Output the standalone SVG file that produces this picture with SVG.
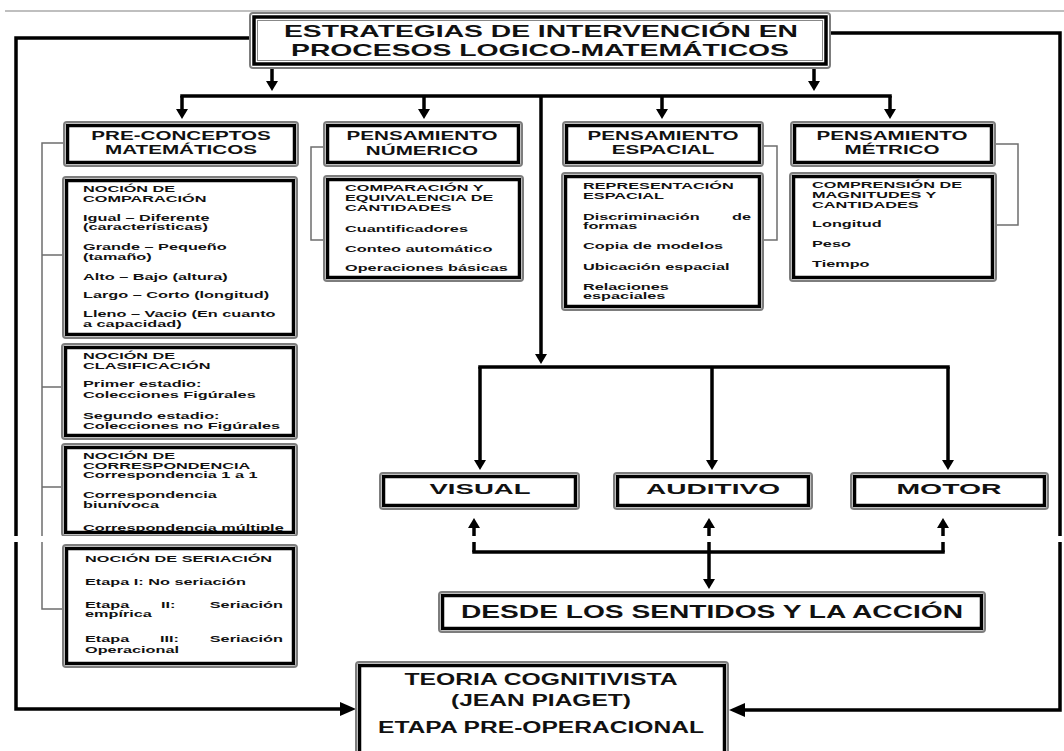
<svg xmlns="http://www.w3.org/2000/svg" width="1064" height="751" viewBox="0 0 1064 751">
<defs>
<style>
.t{font-family:"Liberation Sans",Arial,Helvetica,sans-serif;font-weight:bold;fill:#111}
.s{font-size:9.3px}
.h{font-size:12.5px;text-anchor:middle}
.m{text-anchor:middle}
.e{text-anchor:end}
.bo{fill:#fff;stroke:#7d7d7d;stroke-width:2}
.bi{fill:none;stroke:#000;stroke-width:3.5}
.c{fill:none;stroke:#000;stroke-width:3.5}
.sq{stroke-linecap:square}
.g{fill:none;stroke:#6e6e6e;stroke-width:1.5}
</style>
<marker id="a" markerUnits="userSpaceOnUse" markerWidth="10" markerHeight="12" refX="1" refY="6" orient="auto"><path d="M0,0 L10,6 L0,12 z" fill="#000"/></marker>
<marker id="A" markerUnits="userSpaceOnUse" markerWidth="16" markerHeight="14" refX="1" refY="7" orient="auto"><path d="M0,0 L16,7 L0,14 z" fill="#000"/></marker>
</defs>
<rect width="1064" height="751" fill="#fff"/>
<line x1="5" y1="11" x2="1064" y2="11" stroke="#aaa" stroke-width="1.5"/>

<g id="connectors">
<path class="g" d="M64 143 H42 V609 H63 M42 255 H63 M42 387 H62 M42 487 H62"/>
<path class="g" d="M324 147 H311 V240 H324"/>
<path class="g" d="M763 146 H777 V240 H763"/>
<path class="g" d="M995 144 H1018 V225 H996"/>
<path class="c" d="M272 68 V82" marker-end="url(#a)"/>
<path class="c" d="M814 68 V82" marker-end="url(#a)"/>
<path class="c sq" d="M182 96 H890"/>
<path class="c" d="M182 96 V110" marker-end="url(#a)"/>
<path class="c" d="M424 96 V110" marker-end="url(#a)"/>
<path class="c" d="M662 96 V110" marker-end="url(#a)"/>
<path class="c" d="M890 96 V110" marker-end="url(#a)"/>
<path class="c" d="M541 96 V355" marker-end="url(#a)"/>
<path class="c sq" d="M480 367 H948"/>
<path class="c" d="M480 367 V461" marker-end="url(#a)"/>
<path class="c" d="M712 367 V461" marker-end="url(#a)"/>
<path class="c" d="M948 367 V461" marker-end="url(#a)"/>
<path class="c" d="M474 552 V527" marker-end="url(#a)"/>
<path class="c" d="M709 552 V527" marker-end="url(#a)"/>
<path class="c" d="M943 552 V527" marker-end="url(#a)"/>
<path class="c sq" d="M474 552 H943"/>
<path class="c" d="M709 552 V580" marker-end="url(#a)"/>
<path class="c" d="M250 38 H16 V709 H341" marker-end="url(#A)"/>
<path class="c" d="M830 33 H1060 V710 H744" marker-end="url(#A)"/>
</g>

<g id="title">
<rect class="bo" x="250" y="13" width="580" height="55" rx="3"/>
<text class="t m" font-size="17" x="541" y="37" textLength="514" lengthAdjust="spacingAndGlyphs">ESTRATEGIAS DE INTERVENCIÓN EN</text>
<text class="t m" font-size="17" x="540" y="56" textLength="498" lengthAdjust="spacingAndGlyphs">PROCESOS LOGICO-MATEMÁTICOS</text>
<rect class="bi" x="254" y="17" width="572" height="47" stroke-width="4"/>
<rect x="257.5" y="20.5" width="565" height="40" fill="none" stroke="#888" stroke-width="1"/>
</g>

<g id="h-preconceptos">
<rect class="bo" x="64" y="122" width="234" height="44" rx="3"/>
<text class="t h" transform="translate(181 140) scale(1.65 1)">PRE-CONCEPTOS</text>
<text class="t h" transform="translate(181 154) scale(1.65 1)">MATEMÁTICOS</text>
<rect class="bi" x="67.5" y="125.5" width="227" height="37"/>
</g>
<g id="h-numerico">
<rect class="bo" x="324" y="122" width="198" height="44" rx="3"/>
<text class="t h" transform="translate(422 140) scale(1.65 1)">PENSAMIENTO</text>
<text class="t h" transform="translate(422 155) scale(1.65 1)">NÚMERICO</text>
<rect class="bi" x="327.5" y="125.5" width="191" height="37"/>
</g>
<g id="h-espacial">
<rect class="bo" x="563" y="122" width="200" height="44" rx="3"/>
<text class="t h" transform="translate(663 140) scale(1.65 1)">PENSAMIENTO</text>
<text class="t h" transform="translate(663 154) scale(1.65 1)">ESPACIAL</text>
<rect class="bi" x="566.5" y="125.5" width="193" height="37"/>
</g>
<g id="h-metrico">
<rect class="bo" x="791" y="122" width="204" height="44" rx="3"/>
<text class="t h" transform="translate(892 140) scale(1.65 1)">PENSAMIENTO</text>
<text class="t h" transform="translate(892 154) scale(1.65 1)">MÉTRICO</text>
<rect class="bi" x="794.5" y="125.5" width="197" height="37"/>
</g>

<g id="comparacion">
<rect class="bo" x="63" y="177" width="234" height="161" rx="3"/>
<text class="t s" transform="translate(83 192) scale(1.75 1)">NOCIÓN DE</text>
<text class="t s" transform="translate(83 202) scale(1.75 1)">COMPARACIÓN</text>
<text class="t s" transform="translate(83 221) scale(1.75 1)">Igual – Diferente</text>
<text class="t s" transform="translate(83 230) scale(1.75 1)">(características)</text>
<text class="t s" transform="translate(83 250) scale(1.75 1)">Grande – Pequeño</text>
<text class="t s" transform="translate(83 260) scale(1.75 1)">(tamaño)</text>
<text class="t s" transform="translate(83 280) scale(1.75 1)">Alto – Bajo (altura)</text>
<text class="t s" transform="translate(83 298) scale(1.75 1)">Largo – Corto (longitud)</text>
<text class="t s" transform="translate(83 317) scale(1.75 1)">Lleno – Vacio (En cuanto</text>
<text class="t s" transform="translate(83 327) scale(1.75 1)">a capacidad)</text>
<rect class="bi" x="66.5" y="180.5" width="227" height="154"/>
</g>
<g id="clasificacion">
<rect class="bo" x="62" y="344" width="235" height="95" rx="3"/>
<text class="t s" transform="translate(83 359) scale(1.75 1)">NOCIÓN DE</text>
<text class="t s" transform="translate(83 369) scale(1.75 1)">CLASIFICACIÓN</text>
<text class="t s" transform="translate(83 387) scale(1.75 1)">Primer estadio:</text>
<text class="t s" transform="translate(83 398) scale(1.75 1)">Colecciones Figúrales</text>
<text class="t s" transform="translate(83 419) scale(1.75 1)">Segundo estadio:</text>
<text class="t s" transform="translate(83 429) scale(1.75 1)">Colecciones no Figúrales</text>
<rect class="bi" x="65.5" y="347.5" width="228" height="88"/>
</g>
<g id="correspondencia">
<rect class="bo" x="62" y="444" width="235" height="92" rx="3"/>
<text class="t s" transform="translate(83 459) scale(1.75 1)">NOCIÓN DE</text>
<text class="t s" transform="translate(83 469) scale(1.75 1)">CORRESPONDENCIA</text>
<text class="t s" transform="translate(83 478) scale(1.75 1)">Correspondencia 1 a 1</text>
<text class="t s" transform="translate(83 498) scale(1.75 1)">Correspondencia</text>
<text class="t s" transform="translate(83 508) scale(1.75 1)">biunívoca</text>
<text class="t s" transform="translate(83 531) scale(1.75 1)">Correspondencia múltiple</text>
<rect class="bi" x="65.5" y="447.5" width="228" height="85"/>
</g>
<g id="seriacion">
<rect class="bo" x="63" y="545" width="234" height="122" rx="3"/>
<text class="t s" transform="translate(85 562) scale(1.75 1)">NOCIÓN DE SERIACIÓN</text>
<text class="t s" transform="translate(85 585) scale(1.75 1)">Etapa I: No seriación</text>
<text class="t s" transform="translate(85 608) scale(1.75 1)">Etapa</text>
<text class="t s" transform="translate(161 608) scale(1.75 1)">II:</text>
<text class="t s e" transform="translate(283 608) scale(1.75 1)">Seriación</text>
<text class="t s" transform="translate(85 617) scale(1.75 1)">empírica</text>
<text class="t s" transform="translate(85 642) scale(1.75 1)">Etapa</text>
<text class="t s" transform="translate(160 642) scale(1.75 1)">III:</text>
<text class="t s e" transform="translate(283 642) scale(1.75 1)">Seriación</text>
<text class="t s" transform="translate(85 653) scale(1.75 1)">Operacional</text>
<rect class="bi" x="66.5" y="548.5" width="227" height="115"/>
</g>

<g id="cantidades">
<rect class="bo" x="324" y="176" width="199" height="105" rx="3"/>
<text class="t s" transform="translate(345 191) scale(1.75 1)">COMPARACIÓN Y</text>
<text class="t s" transform="translate(345 201) scale(1.75 1)">EQUIVALENCIA DE</text>
<text class="t s" transform="translate(345 211) scale(1.75 1)">CANTIDADES</text>
<text class="t s" transform="translate(345 232) scale(1.75 1)">Cuantificadores</text>
<text class="t s" transform="translate(345 252) scale(1.75 1)">Conteo automático</text>
<text class="t s" transform="translate(345 271) scale(1.75 1)">Operaciones básicas</text>
<rect class="bi" x="327.5" y="179.5" width="192" height="98"/>
</g>
<g id="representacion">
<rect class="bo" x="562" y="173" width="201" height="137" rx="3"/>
<text class="t s" transform="translate(583 189) scale(1.75 1)">REPRESENTACIÓN</text>
<text class="t s" transform="translate(583 199) scale(1.75 1)">ESPACIAL</text>
<text class="t s" transform="translate(583 220) scale(1.75 1)">Discriminación</text>
<text class="t s e" transform="translate(751 220) scale(1.75 1)">de</text>
<text class="t s" transform="translate(583 229) scale(1.75 1)">formas</text>
<text class="t s" transform="translate(583 249) scale(1.75 1)">Copia de modelos</text>
<text class="t s" transform="translate(583 270) scale(1.75 1)">Ubicación espacial</text>
<text class="t s" transform="translate(583 290) scale(1.75 1)">Relaciones</text>
<text class="t s" transform="translate(583 299) scale(1.75 1)">espaciales</text>
<rect class="bi" x="565.5" y="176.5" width="194" height="130"/>
</g>
<g id="comprension">
<rect class="bo" x="790" y="173" width="206" height="108" rx="3"/>
<text class="t s" transform="translate(812 188) scale(1.75 1)">COMPRENSIÓN DE</text>
<text class="t s" transform="translate(812 198) scale(1.75 1)">MAGNITUDES Y</text>
<text class="t s" transform="translate(812 208) scale(1.75 1)">CANTIDADES</text>
<text class="t s" transform="translate(812 227) scale(1.75 1)">Longitud</text>
<text class="t s" transform="translate(812 247) scale(1.75 1)">Peso</text>
<text class="t s" transform="translate(812 267) scale(1.75 1)">Tiempo</text>
<rect class="bi" x="793.5" y="176.5" width="199" height="101"/>
</g>

<g id="visual">
<rect class="bo" x="380" y="473" width="199" height="36" rx="3"/>
<text class="t m" font-size="15.5" x="480" y="494" textLength="101" lengthAdjust="spacingAndGlyphs">VISUAL</text>
<rect class="bi" x="383.5" y="476.5" width="192" height="29"/>
</g>
<g id="auditivo">
<rect class="bo" x="614" y="473" width="198" height="36" rx="3"/>
<text class="t m" font-size="15.5" x="713" y="494" textLength="134" lengthAdjust="spacingAndGlyphs">AUDITIVO</text>
<rect class="bi" x="617.5" y="476.5" width="191" height="29"/>
</g>
<g id="motor">
<rect class="bo" x="851" y="473" width="197" height="36" rx="3"/>
<text class="t m" font-size="15.5" x="949" y="494" textLength="105" lengthAdjust="spacingAndGlyphs">MOTOR</text>
<rect class="bi" x="854.5" y="476.5" width="190" height="29"/>
</g>
<g id="desde">
<rect class="bo" x="439" y="592" width="546" height="40" rx="3"/>
<text class="t m" font-size="18" x="712" y="618" textLength="502" lengthAdjust="spacingAndGlyphs">DESDE LOS SENTIDOS Y LA ACCIÓN</text>
<rect class="bi" x="442.5" y="595.5" width="539" height="33"/>
</g>
<g id="teoria">
<rect class="bo" x="356" y="662" width="372" height="100" rx="3"/>
<text class="t m" font-size="16" x="541" y="685" textLength="273" lengthAdjust="spacingAndGlyphs">TEORIA COGNITIVISTA</text>
<text class="t m" font-size="16" x="541" y="706" textLength="180" lengthAdjust="spacingAndGlyphs">(JEAN PIAGET)</text>
<text class="t m" font-size="16" x="541" y="733" textLength="326" lengthAdjust="spacingAndGlyphs">ETAPA PRE-OPERACIONAL</text>
<rect class="bi" x="359.5" y="665.5" width="365" height="93"/>
</g>

<rect x="0" y="536" width="1064" height="6" fill="#fff"/>
</svg>
